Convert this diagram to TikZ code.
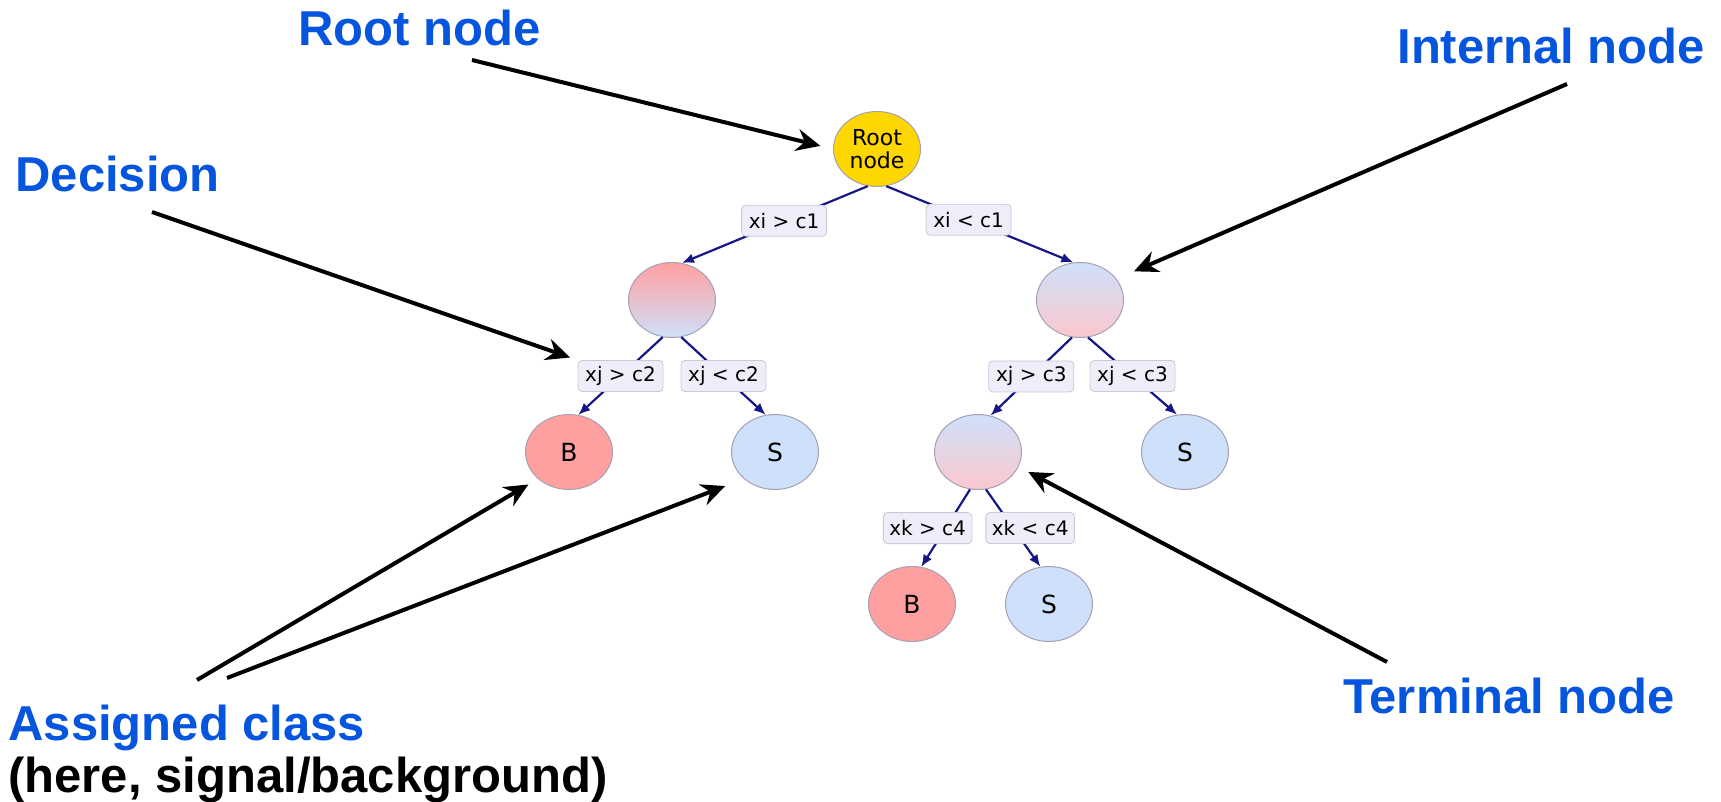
\documentclass[tikz,border=0pt]{standalone}
\usepackage{fontspec}
\setmainfont{Liberation Sans}
\newfontfamily\dejavu{DejaVu Sans}
\usetikzlibrary{arrows.meta,shapes.geometric}

\definecolor{notecol}{RGB}{5,85,222}
\definecolor{edgecol}{RGB}{22,22,135}
\definecolor{nodeline}{RGB}{165,160,180}
\definecolor{bkgfill}{RGB}{255,160,160}
\definecolor{bkglight}{RGB}{252,200,206}
\definecolor{sigfill}{RGB}{206,224,250}
\definecolor{cutfill}{RGB}{238,238,250}
\definecolor{cutline}{RGB}{200,200,215}
\definecolor{rootfill}{RGB}{255,215,0}

\begin{document}
\begin{tikzpicture}[
  x=0.5pt, y=-0.5pt,
  every node/.style={inner sep=0pt},
  treenode/.style={ellipse, draw=nodeline, line width=0.5pt, minimum width=43.5pt,
    minimum height=37.5pt, font=\dejavu\fontsize{12.5}{14}\selectfont},
  bkg/.style={treenode, fill=bkgfill},
  sig/.style={treenode, fill=sigfill},
  splitBS/.style={treenode, top color=bkgfill, bottom color=sigfill},
  splitSB/.style={treenode, top color=sigfill, bottom color=bkglight},
  cut/.style={draw=cutline, fill=cutfill, rounded corners=2pt, line width=0.4pt,
    minimum width=42.5pt, minimum height=15.5pt, inner xsep=3pt,
    font=\dejavu\fontsize{10}{12}\selectfont},
  branch/.style={draw=edgecol, line width=1.1pt},
  callout/.style={draw=black, line width=2pt, -{Stealth[length=12pt,width=11pt,inset=4pt]}},
  note/.style={anchor=base west, text=notecol, font=\fontsize{24.5}{26}\selectfont\bfseries}
]
\useasboundingbox (0,0) rectangle (1721,802);

% the tree
\node[treenode, fill=rootfill, align=center, font=\dejavu\fontsize{11}{11.5}\selectfont]
  (root) at (877,149) {Root\\node};
\node[splitBS] (lnode) at (672,300) {};
\node[splitSB] (rnode) at (1080,300) {};
\node[bkg] (b1) at (569,452) {B};
\node[sig] (s1) at (775,452) {S};
\node[splitSB] (mnode) at (978,452) {};
\node[sig] (s2) at (1185,452) {S};
\node[bkg] (b2) at (912,604) {B};
\node[sig] (s3) at (1049,604) {S};

% branches with their cuts
\draw[branch, -{Latex[length=6pt,width=5pt]}] (root.256) -- node[cut, pos=.45] (c1) {xi > c1} (lnode.75);
\draw[branch, -{Latex[length=6pt,width=5pt]}] (root.284) -- node[cut, pos=.44] (c1r) {xi < c1} (rnode.100);
\draw[branch, -{Latex[length=6pt,width=5pt]}] (lnode.256) -- node[cut] (c2) {xj > c2} (b1.76);
\draw[branch, -{Latex[length=6pt,width=5pt]}] (lnode.284) -- node[cut] (c2r) {xj < c2} (s1.104);
\draw[branch, -{Latex[length=6pt,width=5pt]}] (rnode.258) -- node[cut] (c3) {xj > c3} (mnode.71);
\draw[branch, -{Latex[length=6pt,width=5pt]}] (rnode.282) -- node[cut] (c3r) {xj < c3} (s2.102);
\draw[branch, -{Latex[length=6pt,width=5pt]}] (mnode.258) -- node[cut, xshift=-9pt] (c4) {xk > c4} (b2.76);
\draw[branch, -{Latex[length=6pt,width=5pt]}] (mnode.282) -- node[cut, xshift=8.5pt] (c4r) {xk < c4} (s3.103);

% annotations
\node[note] (rootNote) at (298,46) {Root node};
\node[note] (decNote) at (15,192) {Decision};
\node[note] (intNote) at (1397,64) {Internal node};
\node[note] (termNote) at (1343,713) {Terminal node};
\node[note] (classNote) at (8,740) {Assigned class};
\node[note, text=black] (classSub) at (8,792) {(here, signal/background)};

\coordinate (rootTail) at (472,60);
\coordinate (decTail) at (152,212);
\coordinate (intTail) at (1567,84);
\coordinate (termTail) at (1387,662);
\coordinate (bTail) at (197,680);
\coordinate (sTail) at (227,678);

\draw[callout, shorten >=6.5pt] (rootTail) -- (root.west);
\draw[callout, shorten >=4pt] (decTail) -- (c2.north west);
\draw[callout, shorten >=9.5pt] (intTail) -- (rnode.30);
\draw[callout, shorten >=5.5pt] (termTail) -- (mnode.340);
\draw[callout, shorten >=5.5pt] (bTail) -- (b1.south west);
\draw[callout, shorten >=10pt] (sTail) -- (s1.south west);
\end{tikzpicture}
\end{document}
